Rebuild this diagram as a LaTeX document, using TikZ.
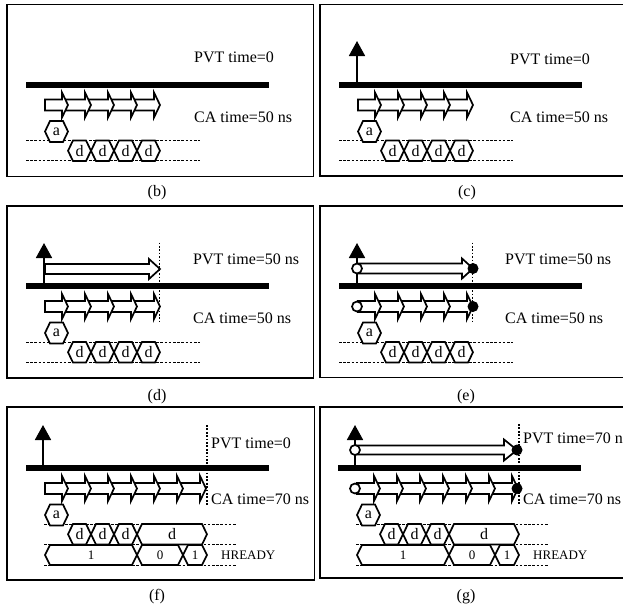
\documentclass[tikz,border=0pt]{standalone}
\usepackage{fontspec}
\setmainfont{Liberation Serif}
\usepackage{tikz}
\usetikzlibrary{arrows.meta, positioning}
\tikzset{
  frame/.style={draw=black, line width=1.5pt},
  busbar/.style={draw=black, line width=6pt},
  hexline/.style={draw=black, fill=white, line width=1.7pt, line join=miter},
  dotline/.style={draw=black, line width=0.9pt, dash pattern=on 2.6pt off 1.6pt},
  timeline/.style={draw=black, line width=1.7pt, dash pattern=on 1.7pt off 1.7pt},
  pulse/.style={draw=black, line width=1.8pt, -{Triangle[length=15pt, width=16pt]}},
  timetext/.style={anchor=west, inner sep=0pt},
  captext/.style={inner sep=0pt},
  hextext/.style={inner sep=0pt},
  smalltext/.style={inner sep=0pt, font=\fontsize{13}{15}\selectfont},
  opendot/.style={draw=black, fill=white, line width=1.7pt},
  fulldot/.style={fill=black}
}
% name, x1, x2, y1, y2, style, text
\newcommand{\hexbox}[7]{
  \draw[hexline] (#2,{(#4+#5)/2}) -- (#2+5,#4) -- (#3-5,#4) -- (#3,{(#4+#5)/2})
    -- (#3-5,#5) -- (#2+5,#5) -- cycle;
  \node[#6] (#1) at ({(#2+#3)/2},{(#4+#5)/2}) {#7};
}
% x1, head base, tip, y, body half, head half
\newcommand{\blockarrow}[6]{
  \draw[hexline] (#1,#4-#5) -- (#2,#4-#5) -- (#2,#4-#6) -- (#3,#4)
    -- (#2,#4+#6) -- (#2,#4+#5) -- (#1,#4+#5) -- cycle;
}
\newcommand{\fivebase}{
  \draw[busbar] (26,84.5) -- (269,84.5);
  \draw[dotline] (26,140.5) -- (200,140.5);
  \draw[dotline] (26,160.5) -- (200,160.5);
  \foreach \k in {137,114,91,68} {
    \blockarrow{\k-6}{\k+17}{\k+23}{105}{5.5}{12.5}
  }
  \blockarrow{45}{62}{68}{105}{5.5}{12.5}
  \hexbox{a}{45}{68}{121}{142}{hextext}{a}
  \foreach \k [count=\n] in {68,91,114,137} {
    \hexbox{d\n}{\k}{\k+23}{140.5}{161}{hextext}{d}
  }
}
\newcommand{\sevenbase}{
  \draw[busbar] (26,84.5) -- (269,84.5);
  \draw[dotline] (44,140.5) -- (237,140.5);
  \draw[dotline] (44,161) -- (237,161);
  \draw[dotline] (44,181.5) -- (237,181.5);
  \foreach \k in {183,160,137,114,91,68} {
    \blockarrow{\k-6}{\k+17}{\k+23}{105}{5.5}{12.5}
  }
  \blockarrow{45}{62}{68}{105}{5.5}{12.5}
  \hexbox{a}{45}{68}{121}{142}{hextext}{a}
  \foreach \k [count=\n] in {68,91,114} {
    \hexbox{d\n}{\k}{\k+23}{140.5}{161}{hextext}{d}
  }
  \hexbox{dlong}{137}{207}{140.5}{161}{hextext}{d}
  \hexbox{high}{45}{137}{161.5}{181.5}{smalltext}{1}
  \hexbox{low}{137}{183}{161.5}{181.5}{smalltext}{0}
  \hexbox{back}{183}{207}{161.5}{181.5}{smalltext}{1}
}
\begin{document}
\begin{tikzpicture}[x=1pt, y=-1pt, font=\fontsize{16}{18}\selectfont]
  \useasboundingbox (0,0) rectangle (623,605);

  % frames
  \draw[frame] (7,4.5) rectangle (313.5,176.5);
  \draw[frame] (320,4.5) rectangle (630,176);
  \draw[frame] (7,206) rectangle (313.5,378);
  \draw[frame] (320,206) rectangle (630,377.5);
  \draw[frame] (7,407) rectangle (314.5,580);
  \draw[frame] (320,407) rectangle (630,578);

  % Panel b
  \begin{scope}[name prefix=b-]
    \fivebase
    \node[timetext] (pvt) at (194,57) {PVT time=0};
    \node[timetext] (ca) at (194,117) {CA time=50 ns};
  \end{scope}
  \node[captext] (capb) at (157,193) {(b)};

  % Panel c
  \begin{scope}[shift={(313,0)}, name prefix=c-]
    \fivebase
    \draw[pulse] (44,84) -- (44,41);
    \node[timetext] (pvt) at (197,59) {PVT time=0};
    \node[timetext] (ca) at (197,117) {CA time=50 ns};
  \end{scope}
  \node[captext] (capc) at (467,193) {(c)};

  % Panel d
  \begin{scope}[shift={(0,201.5)}, name prefix=d-]
    \fivebase
    \draw[pulse] (44,84) -- (44,41.5);
    \blockarrow{45}{149}{160}{67.5}{5}{10}
    \draw[timeline] (159.5,41) -- (159.5,121);
    \node[timetext] (pvt) at (193,57.5) {PVT time=50 ns};
    \node[timetext] (ca) at (193,117) {CA time=50 ns};
  \end{scope}
  \node[captext] (capd) at (157,397) {(d)};

  % Panel e
  \begin{scope}[shift={(313,201.5)}, name prefix=e-]
    \fivebase
    \draw[pulse] (44,84) -- (44,41.5);
    \blockarrow{45}{149}{160}{67}{5}{10}
    \draw[timeline] (159.5,41) -- (159.5,121);
    \draw[opendot] (44,67) circle (5);
    \draw[opendot] (44,105) circle (5);
    \fill[fulldot] (160,67) circle (5.5);
    \fill[fulldot] (160,105) circle (5.5);
    \node[timetext] (pvt) at (192,57.5) {PVT time=50 ns};
    \node[timetext] (ca) at (192,117) {CA time=50 ns};
  \end{scope}
  \node[captext] (cape) at (466,397) {(e)};

  % Panel f
  \begin{scope}[shift={(0,383.5)}, name prefix=f-]
    \sevenbase
    \draw[pulse] (43,84) -- (43,41.5);
    \draw[timeline] (207,41.5) -- (207,122);
    \node[timetext] (pvt) at (211,59.5) {PVT time=0};
    \node[timetext] (ca) at (211,115.5) {CA time=70 ns};
    \node[smalltext, anchor=west] (rdy) at (221,171.5) {HREADY};
  \end{scope}
  \node[captext] (capf) at (157,597) {(f)};

  % Panel g
  \begin{scope}[shift={(312,383.5)}, name prefix=g-]
    \sevenbase
    \draw[pulse] (43,84) -- (43,41.5);
    \blockarrow{44}{192}{205}{66.5}{4.5}{10.5}
    \draw[timeline] (207,40.5) -- (207,121.5);
    \draw[opendot] (43,66.5) circle (5);
    \draw[opendot] (43,105) circle (5);
    \fill[fulldot] (205,66.5) circle (5.5);
    \fill[fulldot] (205,105) circle (5.5);
    \node[timetext] (pvt) at (211,54.5) {PVT time=70 ns};
    \node[timetext] (ca) at (211,115.5) {CA time=70 ns};
    \node[smalltext, anchor=west] (rdy) at (221,171.5) {HREADY};
  \end{scope}
  \node[captext] (capg) at (466,597) {(g)};
\end{tikzpicture}
\end{document}
